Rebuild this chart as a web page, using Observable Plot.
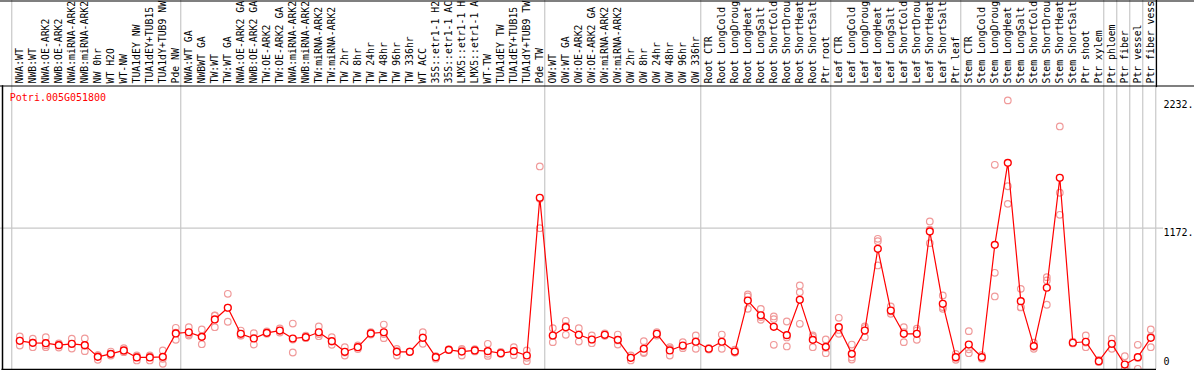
<!DOCTYPE html>
<html>
<head>
<meta charset="utf-8">
<script src="https://cdn.jsdelivr.net/npm/d3@7"></script>
<script src="https://cdn.jsdelivr.net/npm/@observablehq/plot@0.6"></script>
<style>
  html, body { margin: 0; padding: 0; background: #fff; }
  #chart svg { display: block; }
</style>
</head>
<body>
<div id="chart"></div>
<script>
const title = "Potri.005G051800";

const samples = [
  "NWA:WT","NWB:WT","NWA:OE-ARK2","NWB:OE-ARK2","NWA:miRNA-ARK2","NWB:miRNA-ARK2","NW 0hr","WT H2O","WT-NW",
  "TUA1dEY NW","TUA1dEY+TUB15","TUA1dY+TUB9 NW","Pde NW",
  "NWA:WT GA","NWBWT GA","TW:WT","TW:WT GA","NWA:OE-ARK2 GA","NWB:OE-ARK2 GA","TW:OE-ARK2","TW:OE-ARK2 GA",
  "NWA:miRNA-ARK2","NWB:miRNA-ARK2","TW:miRNA-ARK2","TW:miRNA-ARK2",
  "TW 2hr","TW 8hr","TW 24hr","TW 48hr","TW 96hr","TW 336hr",
  "WT ACC","35S::etr1-1 H2","35S::etr1-1 AC","LMX5::etr1-1 H","LMX5::etr1-1 A",
  "WT-TW","TUA1dEY TW","TUA1dEY+TUB15","TUA1dY+TUB9 TW","Pde TW",
  "OW:WT","OW:WT GA","OW:OE-ARK2","OW:OE-ARK2 GA","OW:miRNA-ARK2","OW:miRNA-ARK2",
  "OW 2hr","OW 8hr","OW 24hr","OW 48hr","OW 96hr","OW 336hr",
  "Root CTR","Root LongCold","Root LongDroug","Root LongHeat","Root LongSalt",
  "Root ShortCold","Root ShortDrou","Root ShortHeat","Root ShortSalt","Ptr root",
  "Leaf CTR","Leaf LongCold","Leaf LongDroug","Leaf LongHeat","Leaf LongSalt",
  "Leaf ShortCold","Leaf ShortDrou","Leaf ShortHeat","Leaf ShortSalt","Ptr leaf",
  "Stem CTR","Stem LongCold","Stem LongDroug","Stem LongHeat","Stem LongSalt",
  "Stem ShortCold","Stem ShortDrou","Stem ShortHeat","Stem ShortSalt",
  "Ptr shoot","Ptr xylem","Ptr phloem","Ptr fiber","Ptr vessel","Ptr fiber vess"
];

const meanExpr = [
  238,221,218,202,213,202,105,130,158,100,100,105,299,
  309,271,415,512,296,257,304,323,257,268,309,235,
  147,185,299,309,147,147,263,102,163,149,158,152,135,152,116,1424,
  282,351,288,249,288,246,97,172,296,158,199,230,
  172,230,149,572,450,354,285,578,246,188,
  351,130,323,1001,489,296,296,1145,545,102,
  207,102,1034,1714,567,194,678,1590,222,
  230,69,213,41,102,263
];

const rep1 = [
  274,255,268,207,255,257,116,149,177,116,116,158,346,
  351,332,448,628,323,301,315,340,381,280,357,268,
  185,200,309,373,170,150,309,110,168,170,168,213,145,185,158,1684,
  343,404,343,282,300,290,116,235,310,185,227,282,
  180,290,165,622,503,440,398,697,282,249,
  429,207,357,1084,523,351,338,1228,614,130,
  318,120,1698,2232,669,222,766,2016,230,
  282,80,255,110,205,332
];
const rep2 = [
  199,185,185,182,174,152,80,116,144,75,75,89,246,
  282,210,351,396,282,207,300,323,141,262,276,205,
  116,170,290,260,116,145,213,90,160,116,150,130,130,119,97,1172,
  227,288,232,218,280,207,75,144,282,116,177,172,
  165,172,140,606,412,418,191,641,185,135,
  296,83,268,1064,462,227,323,1048,503,80,
  135,90,802,1520,517,172,738,1466,220,
  185,65,172,6,6,185
];
const rep3 = [
  240,222,201,217,210,197,119,125,153,109,109,47,305,
  294,271,446,512,283,263,297,306,249,262,294,232,
  140,185,298,294,155,146,267,106,161,161,156,113,130,152,69,1416,
  276,361,289,247,284,241,100,137,296,173,193,236,
  171,228,142,503,435,205,266,379,271,180,
  328,100,344,863,482,310,246,1159,518,96,
  168,96,606,1374,515,188,537,1283,216,
  223,62,212,7,95,272
];

// group separators (between sample indices)
const groupBreaks = [-0.62, 12.38, 40.38, 52.38, 62.38, 72.38, 83.38, 84.38, 85.38, 86.38, 87.38];
const gridValues = [1172];
const yTickValues = [1172, 2232];
const yTickLabels = ["1172.", "2232."];
const zeroTick = [0];
const zeroLabel = ["0"];

const rows = samples.map((s, i) => ({i, label: s, mean: meanExpr[i]}));
const reps = [];
[rep1, rep2, rep3].forEach(arr => arr.forEach((v, i) => reps.push({i, v})));

const font = "DejaVu Sans Mono";

const chart = Plot.plot({
  width: 1194,
  height: 370,
  marginTop: 87,
  marginBottom: 1,
  marginLeft: 2,
  marginRight: 38,
  x: {type: "linear", domain: [-1.331, 87.438], axis: null},
  y: {domain: [0, 2339], axis: null},
  style: {fontFamily: font, fontSize: "10px", background: "#fff", overflow: "visible"},
  marks: [
    Plot.ruleY(gridValues, {stroke: "#c8c8c8", strokeWidth: 1.2, insetLeft: -2, insetRight: -7}),
    Plot.ruleX(groupBreaks, {stroke: "#c8c8c8", strokeWidth: 1.2, insetTop: -87}),
    Plot.text(rows, {
      x: "i", text: "label", frameAnchor: "top", rotate: -90,
      textAnchor: "start", lineAnchor: "middle", dy: -4,
      fontFamily: font, fontSize: 9.8, fill: "#000"
    }),
    Plot.dot(reps, {x: "i", y: "v", r: 3.3, stroke: "#f09a9a", strokeWidth: 1.2, fill: "none"}),
    Plot.line(rows, {x: "i", y: "mean", stroke: "#ff0000", strokeWidth: 1.2}),
    Plot.dot(rows, {x: "i", y: "mean", r: 3.4, stroke: "#ff0000", strokeWidth: 1.4, fill: "#fff"}),
    Plot.text([title], {
      frameAnchor: "top-left", dx: 7.3, dy: 10.7, textAnchor: "start", lineAnchor: "middle",
      fill: "#ff0000", fontFamily: font, fontSize: 10
    }),
    Plot.axisY(yTickValues, {
      anchor: "right", tickSize: 0, tickPadding: 7, dy: 4.6,
      tickFormat: (d, k) => yTickLabels[k], fontFamily: font, fontSize: 10, fill: "#000"
    }),
    Plot.axisY(zeroTick, {
      anchor: "right", tickSize: 0, tickPadding: 7, dy: -7.3,
      tickFormat: (d, k) => zeroLabel[k], fontFamily: font, fontSize: 10, fill: "#000"
    }),
    Plot.ruleY(zeroTick, {stroke: "#000", strokeWidth: 1.5, insetLeft: -0.5}),
    Plot.frame({anchor: "left", stroke: "#000", strokeWidth: 1.5, insetTop: -1.5}),
    Plot.frame({anchor: "top", stroke: "#000", strokeWidth: 1.2, insetTop: -1.5, insetLeft: -2, insetRight: -38}),
    Plot.frame({anchor: "top", stroke: "#000", strokeWidth: 1.2, insetTop: -86.5, insetLeft: -2, insetRight: -38}),
    Plot.frame({anchor: "right", stroke: "#000", strokeWidth: 1.2, insetTop: -87, insetBottom: 283})
  ]
});

document.getElementById("chart").appendChild(chart);
</script>
</body>
</html>
